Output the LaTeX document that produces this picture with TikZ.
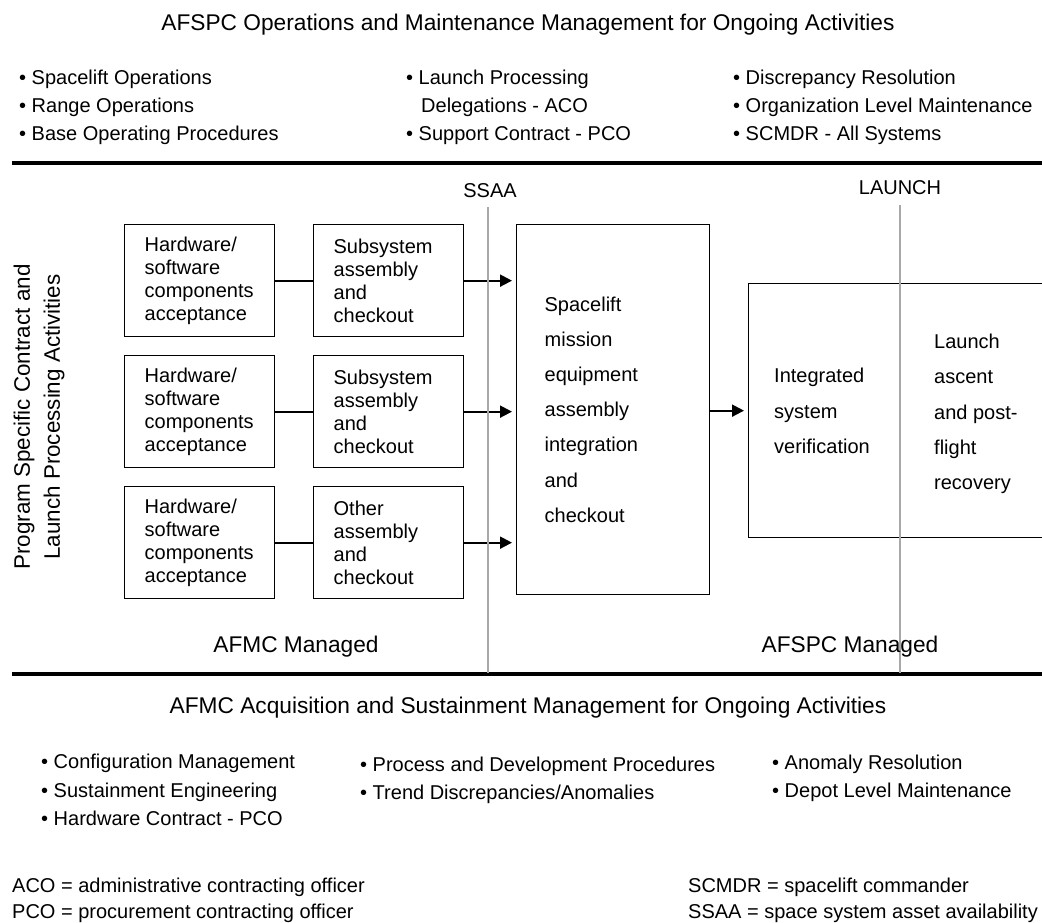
\documentclass[tikz,border=0pt]{standalone}
\usepackage{fontspec}
\setmainfont{Liberation Sans}
\usetikzlibrary{arrows.meta}
\definecolor{sepgray}{RGB}{168,168,168}
\begin{document}
\begin{tikzpicture}[x=1pt,y=-1pt,
  txt/.style={font=\fontsize{20}{23}\selectfont, inner sep=0pt},
  bigtxt/.style={font=\fontsize{22.7}{27}\selectfont, inner sep=0pt},
  widetxt/.style={font=\fontsize{20}{35.2}\selectfont, inner sep=0pt, align=left},
  boxnode/.style={draw, line width=1.3pt, minimum width=150pt, minimum height=112pt,
    text width=110pt, inner xsep=20pt, inner ysep=0pt, align=left,
    font=\fontsize{20}{23}\selectfont},
  conn/.style={line width=2pt},
  arr/.style={line width=2pt, -{Triangle[length=12pt,width=12pt]}, shorten >=4pt},
  rulebar/.style={line width=3.5pt},
  sepline/.style={line width=2.5pt, draw=sepgray}
]
\useasboundingbox (0,0) rectangle (1042,923);
\clip (0,0) rectangle (1042,923);

% top title and bullets
\node[bigtxt, anchor=base] (ttop) at (528,31) {AFSPC Operations and Maintenance Management for Ongoing Activities};
\node[txt, anchor=base west] (t11) at (19,85) {• Spacelift Operations};
\node[txt, anchor=base west] (t12) at (19,113) {• Range Operations};
\node[txt, anchor=base west] (t13) at (19,141) {• Base Operating Procedures};
\node[txt, anchor=base west] (t21) at (406,85) {• Launch Processing};
\node[txt, anchor=base west] (t22) at (421,113) {Delegations - ACO};
\node[txt, anchor=base west] (t23) at (406,141) {• Support Contract - PCO};
\node[txt, anchor=base west] (t31) at (733,85) {• Discrepancy Resolution};
\node[txt, anchor=base west] (t32) at (733,113) {• Organization Level Maintenance};
\node[txt, anchor=base west] (t33) at (733,141) {• SCMDR - All Systems};

% rules
\coordinate (rtl) at (12,163);
\coordinate (rtr) at (1042,163);
\coordinate (rbl) at (12,674);
\coordinate (rbr) at (1042,674);
\draw[rulebar] (rtl) -- (rtr);
\draw[rulebar] (rbl) -- (rbr);

% milestone labels
\node[txt, anchor=base] (ssaa) at (490,197) {SSAA};
\node[txt, anchor=base] (launch) at (900,194) {LAUNCH};

% side label
\node[font=\fontsize{22.4}{30}\selectfont, inner sep=0pt, rotate=90, align=center] (side) at (39,417)
  {Program Specific Contract and\\Launch Processing Activities};

% left boxes
\node[boxnode, anchor=north west] (hw1) at (124,224) {Hardware/\\software\\components\\acceptance};
\node[boxnode, anchor=north west] (ss1) at (313,224) {Subsystem\\assembly\\and\\checkout};
\node[boxnode, anchor=north west] (hw2) at (124,355) {Hardware/\\software\\components\\acceptance};
\node[boxnode, anchor=north west] (ss2) at (313,355) {Subsystem\\assembly\\and\\checkout};
\node[boxnode, anchor=north west] (hw3) at (124,486) {Hardware/\\software\\components\\acceptance};
\node[boxnode, anchor=north west] (ot3) at (313,486) {Other\\assembly\\and\\checkout};

% big box
\node[draw, line width=1.3pt, minimum width=193pt, minimum height=370pt, text width=137pt,
  inner xsep=28pt, inner ysep=0pt, align=left, font=\fontsize{20}{35.2}\selectfont,
  anchor=north west] (sme) at (516,224)
  {Spacelift\\mission\\equipment\\assembly\\integration\\and\\checkout};

% integrated box (open to the right edge)
\node[draw, line width=1.3pt, minimum width=330pt, minimum height=254pt, inner sep=0pt,
  anchor=north west] (isv) at (748,283) {};
\node[widetxt, anchor=west] (isvt) at (774,411) {Integrated\\system\\verification};
\node[widetxt, anchor=west] (lapf) at (934,414) {Launch\\ascent\\and post-\\flight\\recovery};

% connectors
\draw[conn] (hw1) -- (ss1);
\draw[conn] (hw2) -- (ss2);
\draw[conn] (hw3) -- (ot3);
\draw[arr] (ss1.east) -- (ss1.east -| sme.west);
\draw[arr] (ss2.east) -- (ss2.east -| sme.west);
\draw[arr] (ot3.east) -- (ot3.east -| sme.west);
\draw[arr] (sme.east |- isv.west) -- (isv.west);

% separator lines
\coordinate (sst) at (488,207);
\coordinate (ssb) at (488,673);
\coordinate (lat) at (900,205);
\coordinate (lab) at (900,673);
\draw[sepline] (sst) -- (ssb);
\draw[sepline] (lat) -- (lab);

% managed labels
\node[bigtxt, anchor=base] (afmc) at (296,652) {AFMC Managed};
\node[bigtxt, anchor=base] (afspc) at (850,652) {AFSPC Managed};

% bottom title and bullets
\node[bigtxt, anchor=base] (tbot) at (528,713) {AFMC Acquisition and Sustainment Management for Ongoing Activities};
\node[txt, anchor=base west] (b11) at (41,768) {• Configuration Management};
\node[txt, anchor=base west] (b12) at (41,797) {• Sustainment Engineering};
\node[txt, anchor=base west] (b13) at (41,825) {• Hardware Contract - PCO};
\node[txt, anchor=base west] (b21) at (360,771) {• Process and Development Procedures};
\node[txt, anchor=base west] (b22) at (360,799) {• Trend Discrepancies/Anomalies};
\node[txt, anchor=base west] (b31) at (772,769) {• Anomaly Resolution};
\node[txt, anchor=base west] (b32) at (772,797) {• Depot Level Maintenance};

% footnotes
\node[txt, anchor=base west] (f1) at (12,892) {ACO = administrative contracting officer};
\node[txt, anchor=base west] (f2) at (12,918) {PCO = procurement contracting officer};
\node[txt, anchor=base west] (f3) at (688,892) {SCMDR = spacelift commander};
\node[txt, anchor=base west] (f4) at (688,918) {SSAA = space system asset availability};
\end{tikzpicture}
\end{document}
